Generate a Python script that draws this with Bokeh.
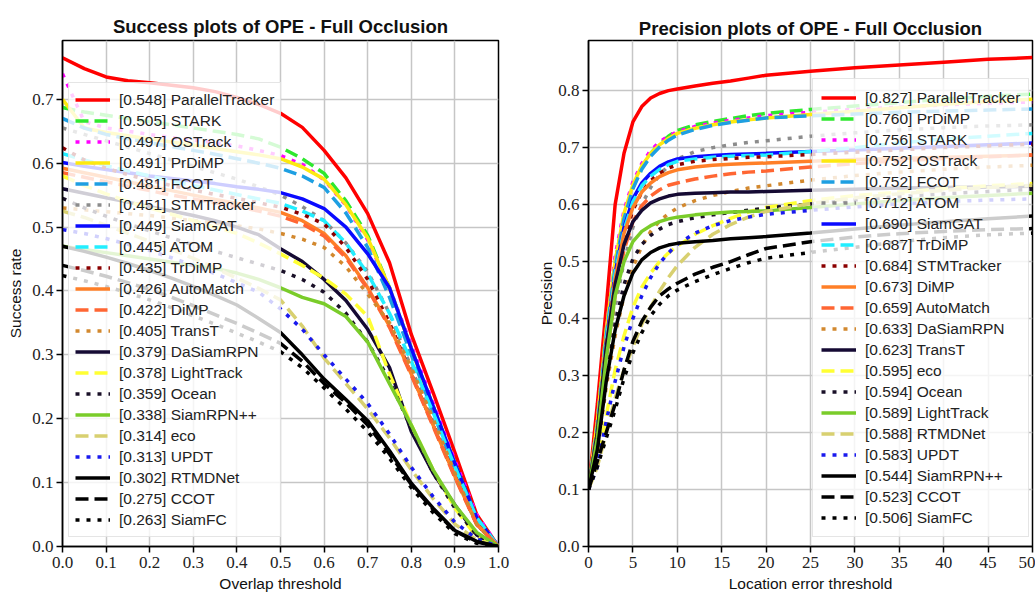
from bokeh.plotting import figure
from bokeh.layouts import row
from bokeh.models import Legend, LegendItem, FixedTicker, PrintfTickFormatter, Range1d
from bokeh.embed import file_html
from bokeh.resources import INLINE

# ---- styles by rank (same sequence in both panels) ----
rank_colors = ["#ff0000", "#2ee82e", "#ff00ff", "#fde910", "#1e9fe2", "#8c8c8c",
               "#0a0aff", "#22eeff", "#8b0000", "#ff7f27", "#ff6633", "#d2882e",
               "#150a33", "#ffff33", "#1a1028", "#7acc2a", "#d8d070", "#1a1aee",
               "#000000", "#000000", "#000000"]
rank_dashes = ["solid", "13 6", "4 7", "solid", "13 6", "4 7",
               "solid", "13 6", "4 7", "solid", "13 6", "4 7",
               "solid", "13 6", "4 7", "solid", "13 6", "4 7",
               "solid", "13 6", "4 7"]

# ---- Success plot data ----
success_x = [0.0, 0.05, 0.1, 0.15, 0.2, 0.25, 0.3, 0.35, 0.4, 0.45, 0.5,
             0.55, 0.6, 0.65, 0.7, 0.75, 0.8, 0.85, 0.9, 0.95, 1.0]
success_names = ["ParallelTracker", "STARK", "OSTrack", "PrDiMP", "FCOT", "STMTracker",
                 "SiamGAT", "ATOM", "TrDiMP", "AutoMatch", "DiMP", "TransT",
                 "DaSiamRPN", "LightTrack", "Ocean", "SiamRPN++", "eco", "UPDT",
                 "RTMDNet", "CCOT", "SiamFC"]
success_scores = ["0.548", "0.505", "0.497", "0.491", "0.481", "0.451", "0.449", "0.445",
                  "0.435", "0.426", "0.422", "0.405", "0.379", "0.378", "0.359", "0.338",
                  "0.314", "0.313", "0.302", "0.275", "0.263"]

s_paralleltracker = [0.765, 0.748, 0.735, 0.729, 0.726, 0.722, 0.718, 0.712, 0.703, 0.692, 0.678, 0.656, 0.620, 0.577, 0.521, 0.444, 0.332, 0.241, 0.147, 0.050, 0.0]
s_stark = [0.687, 0.680, 0.675, 0.670, 0.665, 0.660, 0.655, 0.650, 0.645, 0.638, 0.625, 0.607, 0.584, 0.541, 0.487, 0.405, 0.310, 0.220, 0.130, 0.045, 0.0]
s_ostrack = [0.740, 0.665, 0.655, 0.650, 0.645, 0.640, 0.636, 0.632, 0.627, 0.620, 0.612, 0.598, 0.574, 0.534, 0.480, 0.405, 0.315, 0.225, 0.135, 0.050, 0.0]
s_prdimp = [0.700, 0.655, 0.648, 0.643, 0.638, 0.633, 0.628, 0.623, 0.618, 0.613, 0.607, 0.594, 0.575, 0.535, 0.483, 0.405, 0.310, 0.215, 0.125, 0.040, 0.0]
s_fcot = [0.670, 0.655, 0.645, 0.638, 0.632, 0.626, 0.620, 0.614, 0.607, 0.600, 0.592, 0.580, 0.562, 0.522, 0.468, 0.390, 0.300, 0.210, 0.120, 0.040, 0.0]
s_stmtracker = [0.655, 0.645, 0.635, 0.625, 0.615, 0.605, 0.595, 0.585, 0.575, 0.563, 0.550, 0.532, 0.510, 0.475, 0.430, 0.365, 0.280, 0.195, 0.110, 0.035, 0.0]
s_siamgat = [0.601, 0.595, 0.590, 0.585, 0.580, 0.576, 0.572, 0.568, 0.563, 0.559, 0.554, 0.544, 0.529, 0.500, 0.458, 0.405, 0.310, 0.220, 0.130, 0.045, 0.0]
s_atom = [0.615, 0.605, 0.596, 0.588, 0.580, 0.572, 0.565, 0.558, 0.551, 0.544, 0.537, 0.525, 0.510, 0.475, 0.427, 0.365, 0.290, 0.210, 0.125, 0.045, 0.0]
s_trdimp = [0.624, 0.605, 0.592, 0.582, 0.573, 0.565, 0.558, 0.551, 0.545, 0.538, 0.531, 0.520, 0.505, 0.468, 0.418, 0.350, 0.270, 0.190, 0.110, 0.035, 0.0]
s_automatch = [0.592, 0.585, 0.578, 0.571, 0.564, 0.557, 0.550, 0.543, 0.537, 0.530, 0.523, 0.510, 0.490, 0.455, 0.405, 0.345, 0.270, 0.190, 0.110, 0.035, 0.0]
s_dimp = [0.585, 0.578, 0.571, 0.564, 0.557, 0.550, 0.544, 0.538, 0.532, 0.525, 0.517, 0.505, 0.486, 0.452, 0.403, 0.343, 0.268, 0.188, 0.108, 0.034, 0.0]
s_transt = [0.530, 0.527, 0.524, 0.521, 0.518, 0.514, 0.510, 0.506, 0.502, 0.497, 0.490, 0.481, 0.468, 0.438, 0.395, 0.350, 0.280, 0.200, 0.115, 0.035, 0.0]
s_dasiamrpn = [0.560, 0.553, 0.546, 0.539, 0.532, 0.525, 0.518, 0.510, 0.500, 0.488, 0.466, 0.446, 0.418, 0.385, 0.340, 0.280, 0.180, 0.115, 0.065, 0.018, 0.0]
s_lighttrack = [0.580, 0.565, 0.552, 0.540, 0.530, 0.520, 0.510, 0.500, 0.490, 0.475, 0.458, 0.440, 0.420, 0.395, 0.360, 0.270, 0.190, 0.120, 0.060, 0.015, 0.0]
s_ocean = [0.545, 0.530, 0.517, 0.505, 0.494, 0.483, 0.472, 0.462, 0.452, 0.442, 0.432, 0.418, 0.398, 0.365, 0.320, 0.260, 0.185, 0.115, 0.060, 0.018, 0.0]
s_siamrpnpp = [0.470, 0.465, 0.460, 0.455, 0.450, 0.445, 0.440, 0.435, 0.428, 0.418, 0.405, 0.390, 0.380, 0.360, 0.320, 0.255, 0.190, 0.120, 0.065, 0.022, 0.0]
s_eco = [0.525, 0.515, 0.503, 0.490, 0.478, 0.465, 0.451, 0.436, 0.420, 0.404, 0.386, 0.345, 0.295, 0.255, 0.215, 0.170, 0.120, 0.075, 0.035, 0.010, 0.0]
s_updt = [0.496, 0.490, 0.482, 0.473, 0.463, 0.452, 0.440, 0.427, 0.413, 0.398, 0.372, 0.340, 0.300, 0.262, 0.224, 0.176, 0.124, 0.078, 0.038, 0.012, 0.0]
s_rtmdnet = [0.470, 0.462, 0.453, 0.443, 0.432, 0.420, 0.407, 0.393, 0.378, 0.357, 0.335, 0.300, 0.262, 0.230, 0.197, 0.150, 0.099, 0.060, 0.025, 0.008, 0.0]
s_ccot = [0.440, 0.432, 0.423, 0.413, 0.402, 0.390, 0.377, 0.363, 0.349, 0.334, 0.318, 0.290, 0.255, 0.225, 0.190, 0.145, 0.097, 0.058, 0.024, 0.007, 0.0]
s_siamfc = [0.424, 0.416, 0.407, 0.397, 0.386, 0.374, 0.361, 0.348, 0.334, 0.320, 0.305, 0.280, 0.248, 0.215, 0.180, 0.138, 0.092, 0.053, 0.020, 0.005, 0.0]

success_series = [s_paralleltracker, s_stark, s_ostrack, s_prdimp, s_fcot, s_stmtracker,
                  s_siamgat, s_atom, s_trdimp, s_automatch, s_dimp, s_transt,
                  s_dasiamrpn, s_lighttrack, s_ocean, s_siamrpnpp, s_eco, s_updt,
                  s_rtmdnet, s_ccot, s_siamfc]

# ---- Precision plot data ----
precision_x = [0, 1, 2, 3, 4, 5, 6, 7, 8, 9, 10, 12, 14, 16, 18, 20, 25, 30, 35, 40, 45, 50]
precision_names = ["ParallelTracker", "PrDiMP", "STARK", "OSTrack", "FCOT", "ATOM",
                   "SiamGAT", "TrDiMP", "STMTracker", "DiMP", "AutoMatch", "DaSiamRPN",
                   "TransT", "eco", "Ocean", "LightTrack", "RTMDNet", "UPDT",
                   "SiamRPN++", "CCOT", "SiamFC"]
precision_scores = ["0.827", "0.760", "0.756", "0.752", "0.752", "0.712", "0.690", "0.687",
                    "0.684", "0.673", "0.659", "0.633", "0.623", "0.595", "0.594", "0.589",
                    "0.588", "0.583", "0.544", "0.523", "0.506"]

p_paralleltracker = [0.1, 0.25, 0.42, 0.60, 0.69, 0.745, 0.772, 0.787, 0.795, 0.800, 0.803, 0.808, 0.813, 0.817, 0.822, 0.827, 0.834, 0.840, 0.845, 0.850, 0.855, 0.858]
p_prdimp = [0.1, 0.22, 0.38, 0.50, 0.58, 0.630, 0.665, 0.690, 0.707, 0.720, 0.730, 0.740, 0.746, 0.751, 0.756, 0.760, 0.767, 0.773, 0.779, 0.785, 0.790, 0.794]
p_stark = [0.1, 0.22, 0.38, 0.51, 0.59, 0.640, 0.672, 0.695, 0.710, 0.720, 0.728, 0.737, 0.743, 0.748, 0.752, 0.756, 0.762, 0.767, 0.771, 0.775, 0.778, 0.780]
p_ostrack = [0.1, 0.22, 0.38, 0.50, 0.585, 0.635, 0.668, 0.690, 0.705, 0.716, 0.725, 0.734, 0.740, 0.745, 0.749, 0.752, 0.758, 0.764, 0.770, 0.776, 0.781, 0.785]
p_fcot = [0.1, 0.21, 0.37, 0.49, 0.575, 0.628, 0.662, 0.685, 0.701, 0.713, 0.722, 0.732, 0.739, 0.744, 0.748, 0.752, 0.756, 0.759, 0.762, 0.764, 0.766, 0.768]
p_atom = [0.1, 0.18, 0.31, 0.42, 0.50, 0.560, 0.600, 0.630, 0.652, 0.668, 0.680, 0.693, 0.700, 0.705, 0.709, 0.712, 0.720, 0.726, 0.731, 0.735, 0.738, 0.740]
p_siamgat = [0.1, 0.20, 0.36, 0.48, 0.56, 0.610, 0.638, 0.655, 0.667, 0.675, 0.680, 0.684, 0.686, 0.688, 0.689, 0.690, 0.693, 0.696, 0.699, 0.702, 0.705, 0.708]
p_trdimp = [0.1, 0.20, 0.36, 0.48, 0.555, 0.605, 0.633, 0.650, 0.662, 0.670, 0.676, 0.680, 0.683, 0.685, 0.686, 0.687, 0.693, 0.700, 0.708, 0.715, 0.720, 0.725]
p_stmtracker = [0.1, 0.19, 0.34, 0.46, 0.54, 0.590, 0.622, 0.642, 0.655, 0.664, 0.670, 0.676, 0.679, 0.681, 0.683, 0.684, 0.688, 0.692, 0.696, 0.700, 0.703, 0.706]
p_dimp = [0.1, 0.20, 0.35, 0.47, 0.55, 0.595, 0.622, 0.638, 0.649, 0.656, 0.661, 0.666, 0.669, 0.671, 0.672, 0.673, 0.676, 0.679, 0.681, 0.683, 0.685, 0.687]
p_automatch = [0.1, 0.19, 0.33, 0.44, 0.52, 0.570, 0.598, 0.615, 0.626, 0.634, 0.638, 0.645, 0.650, 0.654, 0.657, 0.659, 0.666, 0.672, 0.677, 0.681, 0.684, 0.687]
p_dasiamrpn = [0.1, 0.17, 0.28, 0.37, 0.44, 0.490, 0.527, 0.553, 0.571, 0.584, 0.594, 0.607, 0.616, 0.623, 0.629, 0.633, 0.643, 0.651, 0.657, 0.662, 0.666, 0.669]
p_transt = [0.1, 0.20, 0.35, 0.46, 0.53, 0.570, 0.590, 0.603, 0.610, 0.615, 0.618, 0.620, 0.621, 0.622, 0.622, 0.623, 0.625, 0.627, 0.629, 0.630, 0.631, 0.632]
p_eco = [0.1, 0.15, 0.23, 0.31, 0.37, 0.420, 0.455, 0.480, 0.500, 0.515, 0.527, 0.548, 0.563, 0.576, 0.587, 0.595, 0.607, 0.616, 0.622, 0.628, 0.633, 0.637]
p_ocean = [0.1, 0.17, 0.29, 0.39, 0.46, 0.505, 0.530, 0.546, 0.557, 0.565, 0.570, 0.577, 0.582, 0.586, 0.590, 0.594, 0.601, 0.608, 0.614, 0.619, 0.623, 0.627]
p_lighttrack = [0.1, 0.19, 0.33, 0.44, 0.50, 0.535, 0.553, 0.563, 0.570, 0.575, 0.578, 0.582, 0.585, 0.587, 0.588, 0.589, 0.595, 0.601, 0.607, 0.612, 0.616, 0.620]
p_rtmdnet = [0.1, 0.14, 0.20, 0.26, 0.31, 0.350, 0.390, 0.420, 0.448, 0.472, 0.493, 0.525, 0.548, 0.565, 0.578, 0.588, 0.602, 0.612, 0.619, 0.625, 0.630, 0.634]
p_updt = [0.1, 0.14, 0.22, 0.29, 0.35, 0.400, 0.440, 0.472, 0.497, 0.515, 0.530, 0.550, 0.563, 0.572, 0.578, 0.583, 0.590, 0.596, 0.601, 0.605, 0.608, 0.610]
p_siamrpnpp = [0.1, 0.17, 0.29, 0.38, 0.44, 0.480, 0.503, 0.516, 0.524, 0.529, 0.532, 0.535, 0.537, 0.540, 0.542, 0.544, 0.550, 0.557, 0.564, 0.570, 0.575, 0.580]
p_ccot = [0.1, 0.15, 0.20, 0.25, 0.31, 0.360, 0.395, 0.420, 0.440, 0.452, 0.462, 0.478, 0.490, 0.500, 0.512, 0.523, 0.535, 0.543, 0.549, 0.553, 0.556, 0.558]
p_siamfc = [0.1, 0.14, 0.19, 0.24, 0.295, 0.340, 0.375, 0.405, 0.425, 0.440, 0.450, 0.465, 0.477, 0.488, 0.498, 0.506, 0.516, 0.525, 0.535, 0.542, 0.547, 0.550]

precision_series = [p_paralleltracker, p_prdimp, p_stark, p_ostrack, p_fcot, p_atom,
                    p_siamgat, p_trdimp, p_stmtracker, p_dimp, p_automatch, p_dasiamrpn,
                    p_transt, p_eco, p_ocean, p_lighttrack, p_rtmdnet, p_updt,
                    p_siamrpnpp, p_ccot, p_siamfc]

success_yticks = [0.0, 0.1, 0.2, 0.3, 0.4, 0.5, 0.6, 0.7]
success_xticks = [0.0, 0.1, 0.2, 0.3, 0.4, 0.5, 0.6, 0.7, 0.8, 0.9, 1.0]
precision_yticks = [0.0, 0.1, 0.2, 0.3, 0.4, 0.5, 0.6, 0.7, 0.8]
precision_xticks = [0, 5, 10, 15, 20, 25, 30, 35, 40, 45, 50]

SANS = "Liberation Sans"
SERIF = "Liberation Serif"


def make_panel(title, xs, series, names, scores, xr, yr, xticks, yticks, xfmt,
               xlabel, ylabel, width, borders, legend_loc, title_standoff,
               ylabel_standoff, legend_padding):
    p = figure(width=width, height=600, x_range=Range1d(*xr), y_range=Range1d(*yr),
               output_backend="svg", toolbar_location=None,
               min_border_left=borders[0], min_border_right=borders[1],
               min_border_top=borders[2], min_border_bottom=borders[3])
    p.title.text = title
    p.title.align = "center"
    p.title.text_font = SANS
    p.title.text_font_size = "18.5px"
    p.title.text_font_style = "bold"
    p.title.text_color = "#111111"
    p.title.standoff = title_standoff
    p.background_fill_color = "white"
    p.border_fill_color = "white"
    p.outline_line_color = "black"
    p.outline_line_width = 1.5
    p.outline_line_alpha = 1.0

    for ax in (p.xaxis[0], p.yaxis[0]):
        ax.axis_line_color = "black"
        ax.axis_line_width = 1.5
        ax.major_tick_line_color = "black"
        ax.major_tick_line_width = 1.5
        ax.major_tick_out = 6
        ax.major_tick_in = 0
        ax.minor_tick_line_color = None
        ax.major_label_text_font = SERIF
        ax.major_label_text_font_size = "17px"
        ax.major_label_text_color = "#222222"
        ax.major_label_standoff = 4
        ax.axis_label_text_font = SANS
        ax.axis_label_text_font_size = "15.5px"
        ax.axis_label_text_font_style = "normal"
        ax.axis_label_text_color = "#111111"
        ax.axis_label_standoff = 4
    p.yaxis[0].axis_label_standoff = ylabel_standoff
    p.yaxis[0].major_label_standoff = 3
    p.xaxis[0].ticker = FixedTicker(ticks=xticks)
    p.yaxis[0].ticker = FixedTicker(ticks=yticks)
    p.xaxis[0].formatter = PrintfTickFormatter(format=xfmt)
    p.yaxis[0].formatter = PrintfTickFormatter(format="%.1f")
    p.xaxis[0].axis_label = xlabel
    p.yaxis[0].axis_label = ylabel

    p.grid.grid_line_color = "#c6c6c6"
    p.grid.grid_line_width = 1.5
    p.xgrid.ticker = FixedTicker(ticks=xticks)
    p.ygrid.ticker = FixedTicker(ticks=yticks)

    items = []
    for i, ys in enumerate(series):
        r = p.line(xs, ys, line_color=rank_colors[i], line_dash=rank_dashes[i],
                   line_width=3.5)
        items.append(LegendItem(label="[%s] %s" % (scores[i], names[i]), renderers=[r]))

    leg = Legend(items=items, location=legend_loc)
    leg.margin = 0
    leg.padding = legend_padding
    leg.spacing = 0
    leg.label_height = 21
    leg.glyph_height = 21
    leg.glyph_width = 35
    leg.label_standoff = 9
    leg.label_text_font = SANS
    leg.label_text_font_size = "15.5px"
    leg.label_text_color = "#222222"
    leg.background_fill_color = "white"
    leg.background_fill_alpha = 0.8
    leg.border_line_color = "#cccccc"
    leg.border_line_width = 1
    p.add_layout(leg)
    return p


left = make_panel("Success plots of OPE - Full Occlusion", success_x, success_series,
                  success_names, success_scores, (0.0, 1.0), (0.0, 0.792),
                  success_xticks, success_yticks, "%.1f",
                  "Overlap threshold", "Success rate",
                  534, (62, 36, 40, 54), (6, 9), 7, 5, 6)

right = make_panel("Precision plots of OPE - Full Occlusion", precision_x, precision_series,
                   precision_names, precision_scores, (0, 50), (0.0, 0.888),
                   precision_xticks, precision_yticks, "%d",
                   "Location error threshold", "Precision",
                   501, (54, 3, 32, 54), (224, 9), 3, 0, 8)

layout = row(left, right)
open("out.html", "w").write(file_html(layout, INLINE))
